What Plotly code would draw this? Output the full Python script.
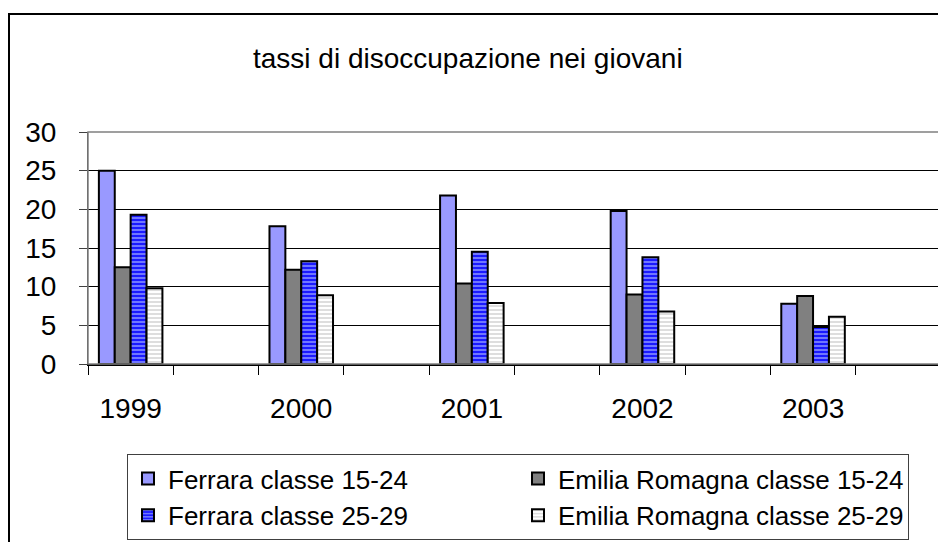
import plotly.graph_objects as go

# ---- data ----
years = ["1999", "2000", "2001", "2002", "2003"]
ferrara_15_24 = [25.0, 17.8, 21.8, 19.8, 7.8]
emilia_15_24 = [12.5, 12.2, 10.4, 9.0, 8.8]
ferrara_25_29 = [19.3, 13.3, 14.5, 13.8, 4.8]
emilia_25_29 = [9.8, 8.9, 7.9, 6.8, 6.1]
series_names = [
    "Ferrara classe 15-24",
    "Emilia Romagna classe 15-24",
    "Ferrara classe 25-29",
    "Emilia Romagna classe 25-29",
]
y_ticks = [0, 5, 10, 15, 20, 25, 30]
chart_title = "tassi di disoccupazione nei giovani"

# every year is followed by an empty category slot (as in the original chart)
cats = []
for i, yr in enumerate(years):
    cats.append(yr)
    cats.append("\u00a0" * (i + 1))


def spread(vals):
    out = []
    for v in vals:
        out += [v, None]
    return out


FONT = "Liberation Sans, Arial, sans-serif"
OFF = 8  # page body margin
W, H = 946 - OFF, 542 - OFF
# plot area in window pixels: x 88..941, y 132..364
L = 88 - OFF
T = 132 - OFF
R = W - (941 - OFF)
B = H - (364 - OFF)
PW, PH = W - L - R, H - T - B


def px_x(x):
    return (x - OFF - L) / PW


def px_y(y):
    return (H - B - (y - OFF)) / PH


styles = [
    dict(color="#9999ff"),
    dict(color="#808080"),
    dict(color="#1a1aff", pattern=dict(shape="-", fillmode="replace", bgcolor="#1a1aff",
                                       fgcolor="#aab4ff", size=4, solidity=0.3)),
    dict(color="#ffffff", pattern=dict(shape="-", fillmode="replace", bgcolor="#ffffff",
                                       fgcolor="#c8c8c8", size=4, solidity=0.3)),
]
values = [ferrara_15_24, emilia_15_24, ferrara_25_29, emilia_25_29]

fig = go.Figure()
for name, vals, st in zip(series_names, values, styles):
    marker = dict(st)
    marker["line"] = dict(color="black", width=2)
    fig.add_trace(go.Bar(x=cats, y=spread(vals), name=name, marker=marker))

fig.update_layout(
    width=W, height=H,
    margin=dict(l=L, r=R, t=T, b=B, autoexpand=False),
    paper_bgcolor="white", plot_bgcolor="white",
    font=dict(family=FONT, color="black", size=28),
    barmode="group", bargap=0.255, bargroupgap=0,
    showlegend=True,
    legend=dict(
        orientation="h", x=px_x(127), y=px_y(454), xanchor="left", yanchor="top",
        bordercolor="#404040", borderwidth=1, bgcolor="white",
        font=dict(family=FONT, size=26, color="black"),
        entrywidth=345, entrywidthmode="pixels", traceorder="normal",
    ),
)

fig.update_xaxes(
    type="category", categoryorder="array", categoryarray=cats, range=[-0.5, 9.5],
    tickson="boundaries", ticks="outside", ticklen=9, tickcolor="black", tickwidth=1,
    showline=True, linecolor="black", linewidth=1.5, showgrid=False,
    tickfont=dict(family=FONT, size=28, color="black"), ticklabelstandoff=19,
)
fig.update_yaxes(
    range=[0, 30], tickvals=y_ticks, showgrid=True, gridcolor="black", gridwidth=1,
    ticks="outside", ticklen=8, tickcolor="#404040", showline=True, linecolor="#404040",
    linewidth=1, zeroline=False,
    tickfont=dict(family=FONT, size=28, color="black"), ticklabelstandoff=17,
)

# plot-area border (gray, as in the original)
fig.add_shape(type="rect", xref="paper", yref="paper", x0=0, x1=1, y0=0, y1=1,
              line=dict(color="#808080", width=1.5), layer="above")
# outer chart frame (cropped on the right and bottom)
fig.add_shape(type="rect", xref="paper", yref="paper",
              x0=px_x(9), x1=px_x(960), y0=px_y(560), y1=px_y(14),
              line=dict(color="black", width=2), layer="above")

fig.add_annotation(text=chart_title, xref="paper", yref="paper",
                   x=px_x(467.5), y=px_y(58), xanchor="center", yanchor="middle",
                   showarrow=False, font=dict(family=FONT, size=28, color="black"))

fig.write_html("out.html")
